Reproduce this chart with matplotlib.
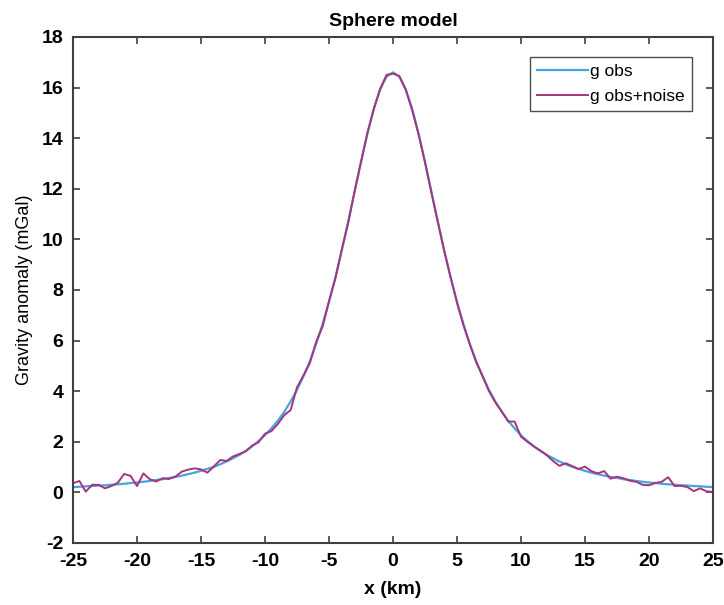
import matplotlib.pyplot as plt
import numpy as np

# 数据：x 每 0.5 km 一个点，-25 .. 25 km
x_km = np.arange(-25, 25.01, 0.5)

# g obs（光滑曲线）
g_obs = [
    0.21, 0.22, 0.24, 0.25, 0.27, 0.28, 0.30, 0.32, 0.34, 0.37,
    0.39, 0.42, 0.45, 0.49, 0.52, 0.57, 0.61, 0.66, 0.72, 0.78,
    0.85, 0.93, 1.01, 1.11, 1.22, 1.35, 1.48, 1.64, 1.82, 2.03,
    2.26, 2.53, 2.83, 3.18, 3.59, 4.05, 4.58, 5.18, 5.87, 6.65,
    7.53, 8.50, 9.56, 10.70, 11.88, 13.06, 14.17, 15.16, 15.93, 16.43,
    16.60,
    16.43, 15.93, 15.16, 14.17, 13.06, 11.88, 10.70, 9.56, 8.50, 7.53,
    6.65, 5.87, 5.18, 4.58, 4.05, 3.59, 3.18, 2.83, 2.53, 2.26,
    2.03, 1.82, 1.64, 1.48, 1.35, 1.22, 1.11, 1.01, 0.93, 0.85,
    0.78, 0.72, 0.66, 0.61, 0.57, 0.52, 0.49, 0.45, 0.42, 0.39,
    0.37, 0.34, 0.32, 0.30, 0.28, 0.27, 0.25, 0.24, 0.22, 0.21,
]

# g obs + noise
g_noise = [
    0.36, 0.45, 0.03, 0.30, 0.30, 0.16, 0.25, 0.38, 0.73, 0.65,
    0.25, 0.75, 0.52, 0.43, 0.56, 0.53, 0.62, 0.82, 0.90, 0.95,
    0.91, 0.78, 1.02, 1.28, 1.24, 1.42, 1.52, 1.62, 1.85, 1.98,
    2.32, 2.42, 2.70, 3.05, 3.25, 4.15, 4.62, 5.10, 5.95, 6.55,
    7.55, 8.45, 9.60, 10.65, 11.90, 13.05, 14.20, 15.15, 15.95, 16.50,
    16.55,
    16.45, 15.90, 15.10, 14.15, 13.05, 11.85, 10.70, 9.55, 8.50, 7.50,
    6.62, 5.85, 5.15, 4.60, 4.00, 3.55, 3.20, 2.80, 2.80, 2.20,
    2.00, 1.82, 1.66, 1.48, 1.24, 1.05, 1.15, 1.04, 0.92, 1.02,
    0.84, 0.75, 0.84, 0.54, 0.62, 0.56, 0.46, 0.42, 0.30, 0.28,
    0.37, 0.42, 0.60, 0.25, 0.26, 0.21, 0.05, 0.16, 0.04, 0.02,
]

x_ticks = np.arange(-25, 26, 5)
y_ticks = np.arange(-2, 19, 2)

plt.rcParams['font.family'] = ['Liberation Sans', 'DejaVu Sans']
plt.rcParams['axes.unicode_minus'] = False

fig = plt.figure(figsize=(7.24, 6.05), dpi=100)
ax = fig.add_axes([0.1008, 0.1025, 0.884, 0.8365])

ax.plot(x_km, g_obs, color='#45A6DC', linewidth=1.6, label='g obs')
ax.plot(x_km, g_noise, color='#A8337F', linewidth=1.4, label='g obs+noise')

ax.set_xlim(-25, 25)
ax.set_ylim(-2, 18)
ax.set_xticks(x_ticks)
ax.set_yticks(y_ticks)
ax.tick_params(direction='in', top=True, right=True, length=5,
               width=1.2, color='#404040', pad=7, labelsize=14)
for lab in ax.get_xticklabels() + ax.get_yticklabels():
    lab.set_fontweight('bold')

for sp in ax.spines.values():
    sp.set_color('#404040')
    sp.set_linewidth(1.5)

ax.set_title('Sphere model', fontsize=14, fontweight='bold', pad=8)
ax.set_xlabel('x (km)', fontsize=14, fontweight='bold', labelpad=8)
ax.set_ylabel('Gravity anomaly (mGal)', fontsize=13, labelpad=6)

leg = ax.legend(loc='upper right', fontsize=12.5, frameon=True, fancybox=False,
                handlelength=2.9, handletextpad=0.15, borderpad=0.4,
                labelspacing=0.55, borderaxespad=0,
                bbox_to_anchor=(0.967, 0.96))
leg.get_frame().set_edgecolor('#202020')
leg.get_frame().set_linewidth(1.0)

plt.savefig('out.png', dpi=100, facecolor='white')
plt.close()
